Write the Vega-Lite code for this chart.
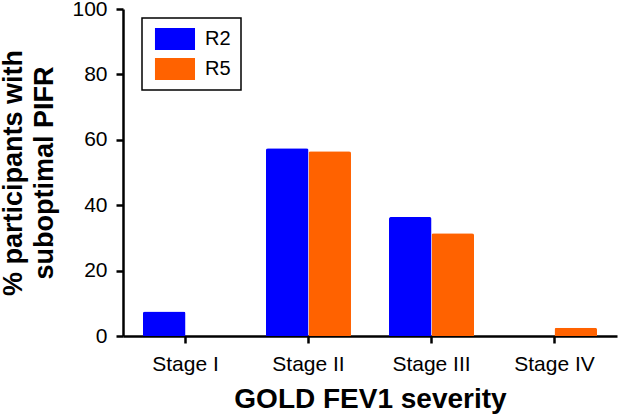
{
  "$schema": "https://vega.github.io/schema/vega-lite/v6.json",
  "autosize": "none",
  "padding": {"left": 123, "top": 9, "right": 1, "bottom": 81},
  "width": 494,
  "height": 327,
  "background": "white",
  "config": {
    "view": {"stroke": null},
    "font": "Liberation Sans"
  },
  "data": {
    "values": [
      {"stage": "Stage I", "group": "R2", "pct": 7.5},
      {"stage": "Stage I", "group": "R5", "pct": 0},
      {"stage": "Stage II", "group": "R2", "pct": 57.4},
      {"stage": "Stage II", "group": "R5", "pct": 56.5},
      {"stage": "Stage III", "group": "R2", "pct": 36.4},
      {"stage": "Stage III", "group": "R5", "pct": 31.4},
      {"stage": "Stage IV", "group": "R2", "pct": 0},
      {"stage": "Stage IV", "group": "R5", "pct": 2.5}
    ]
  },
  "mark": {"type": "bar", "cornerRadiusTopLeft": 2, "cornerRadiusTopRight": 2},
  "encoding": {
    "x": {
      "field": "stage",
      "type": "nominal",
      "sort": ["Stage I", "Stage II", "Stage III", "Stage IV"],
      "scale": {"paddingInner": 0.309, "paddingOuter": 0.1625},
      "axis": {
        "title": "GOLD FEV1 severity",
        "titleFontSize": 28,
        "titleFontWeight": "bold",
        "titleColor": "black",
        "titlePadding": 11,
        "labelAngle": 0,
        "labelFontSize": 21,
        "labelColor": "black",
        "labelPadding": 10,
        "tickSize": 7,
        "tickWidth": 2.5,
        "tickColor": "black",
        "domainColor": "black",
        "domainWidth": 2.5
      }
    },
    "xOffset": {"field": "group", "type": "nominal", "scale": {"paddingInner": 0, "paddingOuter": 0}},
    "y": {
      "field": "pct",
      "type": "quantitative",
      "scale": {"domain": [0, 100], "nice": false},
      "axis": {
        "title": ["% participants with", "suboptimal PIFR"],
        "titleFontSize": 27,
        "titleFontWeight": "bold",
        "titleColor": "black",
        "titleLineHeight": 31,
        "titlePadding": 13,
        "values": [0, 20, 40, 60, 80, 100],
        "grid": false,
        "labelFontSize": 21,
        "labelColor": "black",
        "labelPadding": 9,
        "tickSize": 7,
        "tickWidth": 2.5,
        "tickColor": "black",
        "domainColor": "black",
        "domainWidth": 2.5
      }
    },
    "color": {
      "field": "group",
      "type": "nominal",
      "scale": {"domain": ["R2", "R5"], "range": ["#0000FF", "#FF6200"]},
      "legend": {
        "title": null,
        "orient": "none",
        "legendX": 19,
        "legendY": 9,
        "symbolType": "M-0.73,-1L2.91,-1L2.91,1L-0.73,1Z",
        "symbolSize": 484,
        "symbolStrokeWidth": 0,
        "symbolOpacity": 1,
        "labelFontSize": 20,
        "labelColor": "black",
        "labelOffset": 31,
        "rowPadding": 8,
        "padding": 10,
        "strokeColor": "black",
        "fillColor": "white",
        "encode": {"legend": {"update": {"strokeWidth": {"value": 1.5}}}}
      }
    }
  }
}
